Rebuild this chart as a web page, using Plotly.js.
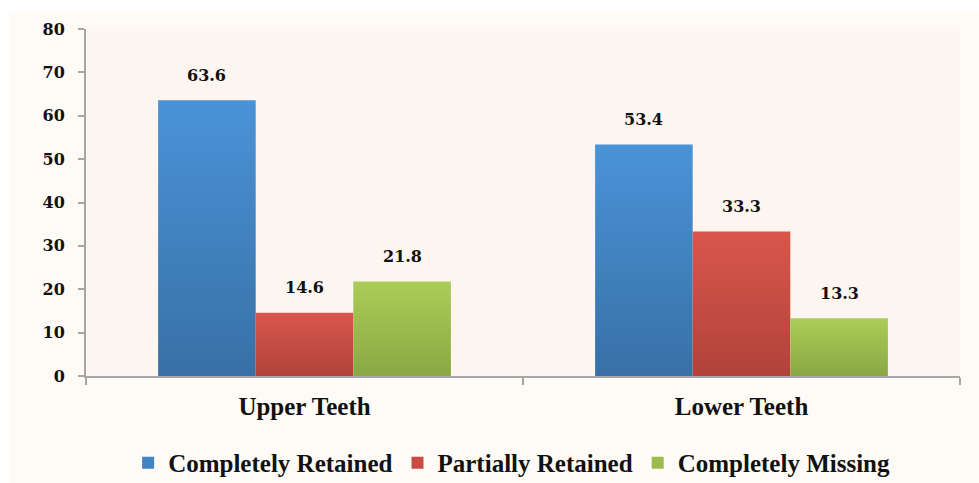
<!DOCTYPE html>
<html>
<head>
<meta charset="utf-8">
<script src="https://cdn.plot.ly/plotly-3.0.1.min.js"></script>
<style>html,body{margin:0;padding:0;background:#fff;}#chart{width:979px;height:483px;}</style>
</head>
<body>
<div id="chart"></div>
<script>
const categories = ["Upper Teeth", "Lower Teeth"];
const seriesNames = ["Completely Retained", "Partially Retained", "Completely Missing"];
const completelyRetained = [63.6, 53.4];
const partiallyRetained = [14.6, 33.3];
const completelyMissing = [21.8, 13.3];
const yTicks = [0, 10, 20, 30, 40, 50, 60, 70, 80];

const seriesValues = [completelyRetained, partiallyRetained, completelyMissing];
const midColors = ["#4283c2", "#c84c42", "#9bbb4e"];
const gradStops = [["#4a93d8", "#3870a6"], ["#d9564c", "#b0433a"], ["#abcc58", "#8aa843"]];

const FONT = "Liberation Serif, Times New Roman, serif";
const NUMFONT = "DejaVu Serif, serif";
const bargap = 0.33;

const traces = seriesNames.map((name, i) => ({
  type: "bar",
  name: name,
  x: categories,
  y: seriesValues[i],
  marker: {color: midColors[i], line: {width: 0}},
  hoverinfo: "none"
}));

// data labels above bars
const nS = seriesNames.length;
const barW = (1 - bargap) / nS;
const annotations = [];
seriesValues.forEach((vals, i) => {
  vals.forEach((v, j) => {
    annotations.push({
      x: j + (i - (nS - 1) / 2) * barW,
      y: v,
      xref: "x", yref: "y",
      text: "<b>" + v.toFixed(1) + "</b>",
      showarrow: false,
      yanchor: "middle",
      yshift: 25,
      font: {family: NUMFONT, size: 16, color: "#111"}
    });
  });
});

const layout = {
  width: 979, height: 483,
  margin: {l: 86, r: 19, t: 29, b: 107, autoexpand: false},
  paper_bgcolor: "#ffffff",
  plot_bgcolor: "rgba(0,0,0,0)",
  barmode: "group",
  bargap: bargap,
  bargroupgap: 0,
  showlegend: true,
  legend: {
    orientation: "h",
    x: 0.487, xanchor: "center",
    y: -0.2507, yanchor: "middle",
    font: {family: FONT, size: 25, color: "#111", weight: "bold"},
    itemwidth: 30,
    bgcolor: "rgba(0,0,0,0)"
  },
  xaxis: {
    type: "category",
    showline: true, linecolor: "#a6a6a6", linewidth: 2,
    ticks: "outside", tickson: "boundaries", ticklen: 7, tickcolor: "#a6a6a6", tickwidth: 2,
    tickfont: {family: FONT, size: 25, color: "#111", weight: "bold"},
    ticklabelstandoff: 7,
    showgrid: false, zeroline: false, fixedrange: true
  },
  yaxis: {
    range: [0, 80],
    tickvals: yTicks,
    showline: true, linecolor: "#a6a6a6", linewidth: 2,
    ticks: "outside", ticklen: 6, tickcolor: "#a6a6a6", tickwidth: 2,
    tickfont: {family: NUMFONT, size: 16, color: "#111", weight: "bold"},
    ticklabelstandoff: 10,
    showgrid: false, zeroline: false, fixedrange: true
  },
  shapes: [
    {type: "rect", xref: "paper", yref: "paper", x0: -0.0881, x1: 1.03, y0: -0.32, y1: 1.0519,
     fillcolor: "#fefaf5", line: {width: 0}, layer: "below"},
    {type: "rect", xref: "paper", yref: "paper", x0: 0, x1: 1, y0: 0, y1: 1,
     fillcolor: "#fdf5f0", line: {width: 0}, layer: "below"}
  ],
  annotations: annotations
};

Plotly.newPlot("chart", traces, layout, {displayModeBar: false, staticPlot: true}).then(gd => {
  const svg = gd.querySelector("svg.main-svg");
  const ns = "http://www.w3.org/2000/svg";
  let defs = svg.querySelector("defs");
  if (!defs) { defs = document.createElementNS(ns, "defs"); svg.insertBefore(defs, svg.firstChild); }
  gradStops.forEach((st, i) => {
    const g = document.createElementNS(ns, "linearGradient");
    g.setAttribute("id", "bargrad" + i);
    g.setAttribute("x1", "0"); g.setAttribute("y1", "0");
    g.setAttribute("x2", "0"); g.setAttribute("y2", "1");
    [[0, st[0]], [1, st[1]]].forEach(([o, c]) => {
      const s = document.createElementNS(ns, "stop");
      s.setAttribute("offset", o); s.setAttribute("stop-color", c);
      g.appendChild(s);
    });
    defs.appendChild(g);
  });
  gd.querySelectorAll(".barlayer .trace.bars").forEach((tr, i) => {
    tr.querySelectorAll("path").forEach(p => { p.style.fill = "url(#bargrad" + i + ")"; });
  });
});
</script>
</body>
</html>
